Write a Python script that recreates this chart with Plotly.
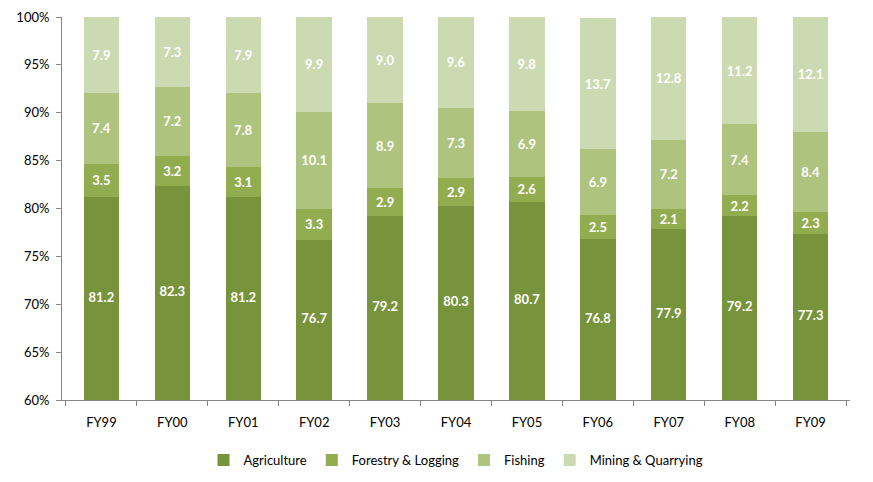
import plotly.graph_objects as go

categories = ["FY99", "FY00", "FY01", "FY02", "FY03", "FY04", "FY05", "FY06", "FY07", "FY08", "FY09"]
agriculture = [81.2, 82.3, 81.2, 76.7, 79.2, 80.3, 80.7, 76.8, 77.9, 79.2, 77.3]
forestry = [3.5, 3.2, 3.1, 3.3, 2.9, 2.9, 2.6, 2.5, 2.1, 2.2, 2.3]
fishing = [7.4, 7.2, 7.8, 10.1, 8.9, 7.3, 6.9, 6.9, 7.2, 7.4, 8.4]
mining = [7.9, 7.3, 7.9, 9.9, 9.0, 9.6, 9.8, 13.7, 12.8, 11.2, 12.1]
y_ticks = [60, 65, 70, 75, 80, 85, 90, 95, 100]
y_min, y_max = 60, 100

FONT = "Lato"
series = [
    ("Agriculture", agriculture, "#77933C"),
    ("Forestry & Logging", forestry, "#91AD4F"),
    ("Fishing", fishing, "#AEC47E"),
    ("Mining & Quarrying", mining, "#CCDAB2"),
]

label_font = dict(color="white", size=13, family=FONT, weight="bold")

fig = go.Figure()
for i, (name, vals, col) in enumerate(series):
    fig.add_trace(go.Bar(
        x=categories, y=vals, name=name, marker_color=col,
        marker_line_width=0,
        text=None if i == 0 else [f"{v:.1f}" for v in vals],
        textposition="none" if i == 0 else "inside",
        insidetextanchor="middle",
        textfont=label_font,
        constraintext="none",
        hoverinfo="x+y+name",
    ))

# Agriculture labels centred on the visible part of the bar (axis starts at 60%)
fig.add_trace(go.Scatter(
    x=categories, y=[(y_min + v) / 2 for v in agriculture],
    mode="text", text=[f"{v:.1f}" for v in agriculture],
    textfont=label_font, showlegend=False, hoverinfo="skip",
))

fig.update_layout(
    barmode="stack", bargap=0.5,
    width=873, height=482,
    margin=dict(l=54, r=31, t=9, b=90, autoexpand=False),
    plot_bgcolor="white", paper_bgcolor="white",
    font=dict(family=FONT, size=13, color="black"),
    legend=dict(orientation="h", x=0.5, xanchor="center", y=-0.157, yanchor="middle",
                font=dict(size=13, family=FONT), itemwidth=30, traceorder="normal"),
)
fig.update_yaxes(range=[y_min, y_max], tickvals=y_ticks, ticktext=[f"{v}%" for v in y_ticks],
                 showgrid=False, zeroline=False, automargin=False,
                 showline=True, linecolor="#868686", ticks="outside", ticklen=5, tickcolor="#868686",
                 ticklabelstandoff=4)
fig.update_xaxes(showline=True, linecolor="#868686", ticks="outside", ticklen=5, tickcolor="#868686",
                 tickson="boundaries", showgrid=False, automargin=False, ticklabelstandoff=10)

fig.write_html("out.html")
